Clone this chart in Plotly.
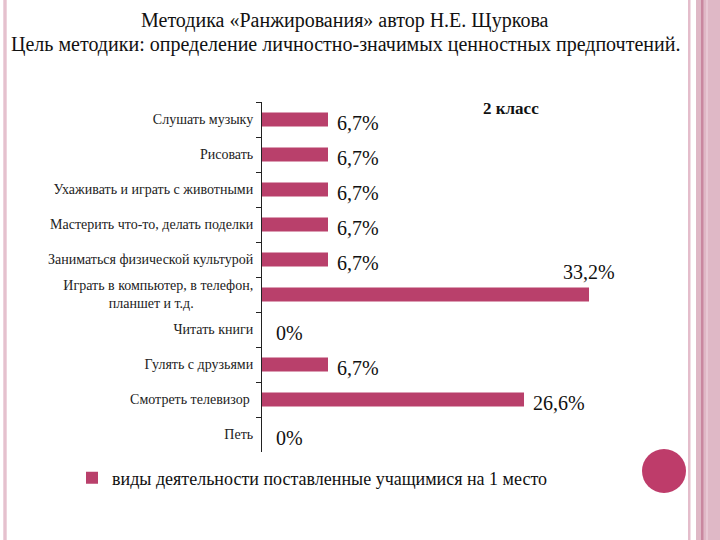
import plotly.graph_objects as go

# ---- data ----
categories = [
    "Слушать музыку",
    "Рисовать",
    "Ухаживать и играть с животными",
    "Мастерить что-то, делать поделки",
    "Заниматься физической культурой",
    "Играть в компьютер, в телефон,<br>планшет и т.д." + "\u00a0" * 17,
    "Читать книги",
    "Гулять с друзьями",
    "Смотреть телевизор" + "\u00a0",
    "Петь",
]
values = [6.7, 6.7, 6.7, 6.7, 6.7, 33.2, 0, 6.7, 26.6, 0]
value_labels = ["6,7%", "6,7%", "6,7%", "6,7%", "6,7%", "33,2%", "0%", "6,7%", "26,6%", "0%"]
series_name = "виды деятельности поставленные учащимися на 1 место"
title_line1 = "Методика «Ранжирования» автор Н.Е. Щуркова"
title_line2 = "Цель методики: определение личностно-значимых ценностных предпочтений."
class_label = "2 класс"

# ---- layout geometry ----
W, H = 720, 540
L, R, T, B = 262, 64, 102, 88
PW, PH = W - L - R, H - T - B
SERIF = "Times New Roman, Liberation Serif, DejaVu Serif, serif"
BAR_COLOR = "#B9406B"


def px(x):
    return (x - L) / PW


def py(y):
    return (H - B - y) / PH


fig = go.Figure()
fig.add_trace(go.Bar(
    y=categories, x=values, orientation="h", name=series_name,
    marker=dict(color=BAR_COLOR, line=dict(width=0)), width=0.4,
    showlegend=True, hoverinfo="skip",
))

annotations = []
vmax = max(values)
for cat, v, lab in zip(categories, values, value_labels):
    if v == vmax:
        annotations.append(dict(x=v, y=cat, xref="x", yref="y", text=lab, showarrow=False,
                                xanchor="center", yanchor="middle", yshift=23,
                                font=dict(family=SERIF, size=20, color="#111")))
    else:
        annotations.append(dict(x=v, y=cat, xref="x", yref="y", text=lab, showarrow=False,
                                xanchor="left", yanchor="middle",
                                xshift=7 if v > 0 else 12, yshift=-3,
                                font=dict(family=SERIF, size=20, color="#111")))

annotations += [
    dict(x=px(345), y=py(20), xref="paper", yref="paper", text=title_line1, showarrow=False,
         xanchor="center", yanchor="middle", font=dict(family=SERIF, size=20, color="#111")),
    dict(x=px(345), y=py(44), xref="paper", yref="paper", text=title_line2, showarrow=False,
         xanchor="center", yanchor="middle", font=dict(family=SERIF, size=20, color="#111")),
    dict(x=px(511), y=py(108), xref="paper", yref="paper", text="<b>" + class_label + "</b>",
         showarrow=False, xanchor="center", yanchor="middle",
         font=dict(family=SERIF, size=17, color="#111")),
]

shapes = [
    # left border stripes
    dict(type="rect", xref="paper", yref="paper", x0=px(3), x1=px(7), y0=py(0), y1=py(540),
         fillcolor="#EDD3DD", line=dict(width=0), layer="below"),
    dict(type="rect", xref="paper", yref="paper", x0=px(4.5), x1=px(5.5), y0=py(0), y1=py(540),
         fillcolor="#DDAFC0", line=dict(width=0), layer="below"),
    # right border stripes
    dict(type="rect", xref="paper", yref="paper", x0=px(688), x1=px(690.5), y0=py(0), y1=py(540),
         fillcolor="#E4BDCB", line=dict(width=0), layer="below"),
    dict(type="rect", xref="paper", yref="paper", x0=px(696), x1=px(720), y0=py(0), y1=py(540),
         fillcolor="#DFB8C6", line=dict(width=0), layer="below"),
    dict(type="rect", xref="paper", yref="paper", x0=px(701), x1=px(703.5), y0=py(0), y1=py(540),
         fillcolor="#C9879F", line=dict(width=0), layer="below"),
    dict(type="rect", xref="paper", yref="paper", x0=px(706), x1=px(708), y0=py(0), y1=py(540),
         fillcolor="#E8C8D4", line=dict(width=0), layer="below"),
    # decorative circle
    dict(type="circle", xref="paper", yref="paper", x0=px(642), x1=px(686), y0=py(449), y1=py(493),
         fillcolor="#BE3C6A", line=dict(width=0), layer="above"),
]

fig.update_layout(
    width=W, height=H,
    margin=dict(l=L, r=R, t=T, b=B, pad=0),
    paper_bgcolor="white", plot_bgcolor="white",
    font=dict(family=SERIF, color="#111"),
    xaxis=dict(range=[0, PW / 9.85], showgrid=False, zeroline=False, showline=False,
               showticklabels=False, ticks="", fixedrange=True),
    yaxis=dict(autorange="reversed", showgrid=False, zeroline=False, showline=True,
               linecolor="#222", linewidth=1, ticks="outside", ticklen=5, tickcolor="#222",
               tickson="boundaries", ticklabelstandoff=5,
               tickfont=dict(family=SERIF, size=14, color="#222"),
               fixedrange=True),
    legend=dict(orientation="h", x=px(72), xanchor="left", y=py(478), yanchor="middle",
                font=dict(family=SERIF, size=18, color="#111"), bgcolor="rgba(0,0,0,0)"),
    annotations=annotations,
    shapes=shapes,
    bargap=0.6,
)

fig.write_html("out.html")
